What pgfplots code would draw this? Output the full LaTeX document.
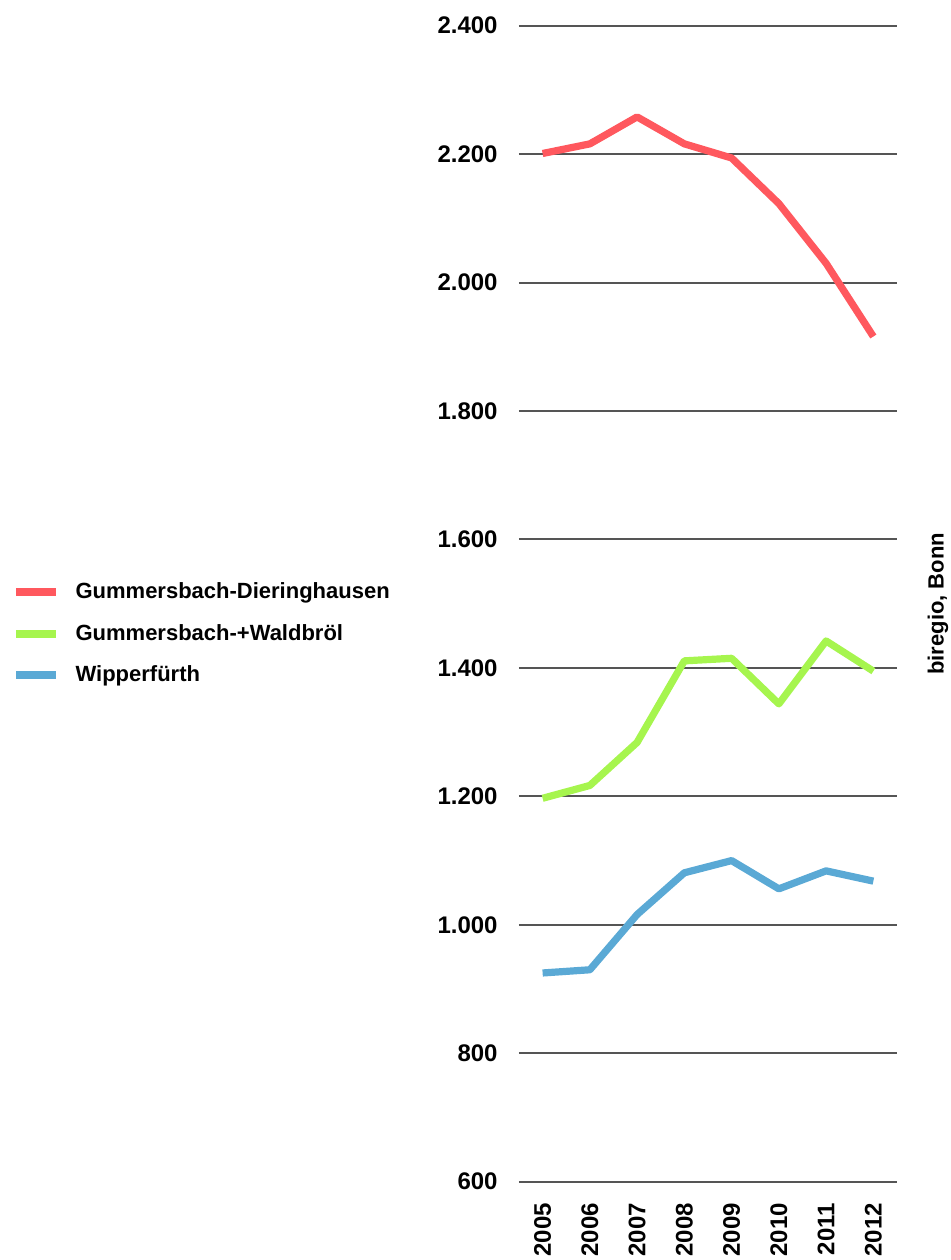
\documentclass[border=0pt]{standalone}
\usepackage{fontspec}
\setmainfont{Liberation Sans}
\usepackage{pgfplots}
\pgfplotsset{compat=1.18}

\definecolor{redline}{HTML}{FF585E}
\definecolor{greenline}{HTML}{A6F54E}
\definecolor{blueline}{HTML}{5AA9D5}
\definecolor{gridgray}{HTML}{555555}

\begin{document}
\begin{tikzpicture}
% fixed page size, like the reference
\useasboundingbox (-259.5pt,-39.15pt) rectangle (216pt,590.85pt);
\begin{axis}[
    at={(0,0)}, anchor=origin,
    scale only axis,
    width=189pt, height=578pt,
    xmin=2004.5, xmax=2012.5,
    ymin=600, ymax=2400,
    xtick={2005,...,2012},
    ytick={600,800,...,2400},
    ymajorgrids=true,
    grid style={line width=1pt, gridgray},
    axis line style={draw=none},
    tick style={draw=none},
    major tick length=0pt,
    clip=false,
    /pgf/number format/assume math mode=true,
    ticklabel style={font=\bfseries\fontsize{12}{14}\selectfont, inner sep=0pt},
    xticklabel style={rotate=90, anchor=east, /pgf/number format/1000 sep={}},
    xticklabel shift=10.5pt,
    yticklabel style={anchor=east, /pgf/number format/1000 sep={.}},
    yticklabel shift=10.5pt,
    legend style={
        at={(-253.5pt,299.6pt)}, anchor=north west,
        draw=none, fill=none, inner sep=0pt,
        font=\bfseries\fontsize{11}{13}\selectfont,
        row sep=11.2pt,
        nodes={inner sep=0pt, anchor=west},
        /tikz/every odd column/.append style={column sep=7.6pt},
    },
    legend cell align=left,
    legend image code/.code={\draw[line width=4pt] (0pt,0pt) -- (20pt,0pt);},
    every axis plot/.append style={line width=3.6pt, line join=round},
]
\addplot[redline] coordinates {
    (2005,2201) (2006,2216) (2007,2258) (2008,2216)
    (2009,2194) (2010,2123) (2011,2030) (2012,1916)
};
\addplot[greenline] coordinates {
    (2005,1197) (2006,1217) (2007,1284) (2008,1411)
    (2009,1415) (2010,1344) (2011,1442) (2012,1395)
};
\addplot[blueline] coordinates {
    (2005,925) (2006,930) (2007,1016) (2008,1081)
    (2009,1100) (2010,1056) (2011,1084) (2012,1068)
};
\legend{Gummersbach-Dieringhausen, Gummersbach-+Waldbröl, Wipperfürth}
\node[rotate=90, font=\bfseries\fontsize{11}{13}\selectfont]
    at ([xshift=20.5pt]rel axis cs:1,0.5) {biregio, Bonn};
\end{axis}
\end{tikzpicture}
\end{document}
